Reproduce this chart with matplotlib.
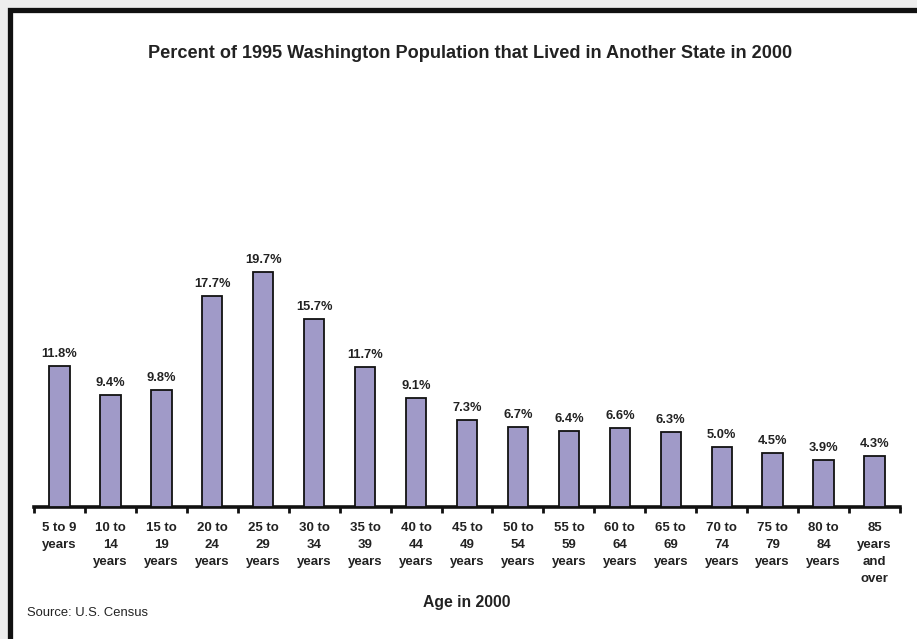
import matplotlib
matplotlib.use("Agg")
import matplotlib.pyplot as plt
from matplotlib.patches import Rectangle

plt.rcParams['font.family'] = ['Liberation Sans', 'DejaVu Sans']

ages = ["5 to 9\nyears", "10 to\n14\nyears", "15 to\n19\nyears", "20 to\n24\nyears",
        "25 to\n29\nyears", "30 to\n34\nyears", "35 to\n39\nyears", "40 to\n44\nyears",
        "45 to\n49\nyears", "50 to\n54\nyears", "55 to\n59\nyears", "60 to\n64\nyears",
        "65 to\n69\nyears", "70 to\n74\nyears", "75 to\n79\nyears", "80 to\n84\nyears",
        "85\nyears\nand\nover"]
pct = [11.8, 9.4, 9.8, 17.7, 19.7, 15.7, 11.7, 9.1, 7.3, 6.7, 6.4, 6.6, 6.3, 5.0, 4.5, 3.9, 4.3]

W, H = 917, 639
fig = plt.figure(figsize=(W / 100, H / 100), dpi=100)
fig.patch.set_facecolor('#eeeeee')

# white panel with heavy black frame (runs off the right and bottom edges)
fig.add_artist(Rectangle((9.5 / W, -0.05), 1.1, 1 - 9.5 / H + 0.05,
                         transform=fig.transFigure, facecolor='white',
                         edgecolor='#111111', linewidth=3.8, zorder=-10))

ax = fig.add_axes([34 / W, (H - 507) / H, (900 - 34) / W, 307 / H])
ax.set_facecolor('none')
x = range(len(pct))
ax.bar(x, pct, width=0.4, color='#a09ac8', edgecolor='#111111', linewidth=1.3, zorder=3)
for i, v in enumerate(pct):
    ax.text(i, v + 0.5, f"{v:.1f}%", ha='center', va='bottom',
            fontsize=9.3, fontweight='bold', color='#222222')

ax.set_xlim(-0.5, len(pct) - 0.5)
ax.set_ylim(0, 25.7)
for s in ['top', 'right', 'left']:
    ax.spines[s].set_visible(False)
ax.spines['bottom'].set_linewidth(2.6)
ax.spines['bottom'].set_color('#111111')
ax.set_yticks([])

ax.set_xticks([i - 0.5 for i in range(len(pct) + 1)], minor=False)
ax.set_xticklabels([])
ax.tick_params(axis='x', which='major', length=4, width=2, color='#111111')
ax.set_xticks(list(x), minor=True)
ax.set_xticklabels(ages, minor=True, fontsize=9.5, fontweight='bold',
                   color='#222222', linespacing=1.55, va='top')
ax.tick_params(axis='x', which='minor', length=0, pad=11)

fig.text(470.5 / W, 1 - 53 / H, "Percent of 1995 Washington Population that Lived in Another State in 2000",
         ha='center', va='center', fontsize=13.1, fontweight='bold', color='#222222')
fig.text(466.5 / W, 1 - 602 / H, "Age in 2000", ha='center', va='center',
         fontsize=11.3, fontweight='bold', color='#222222')
fig.text(27 / W, 1 - 613 / H, "Source: U.S. Census", ha='left', va='center',
         fontsize=9.4, color='#222222')

fig.savefig("out.png", dpi=100, facecolor=fig.get_facecolor())
